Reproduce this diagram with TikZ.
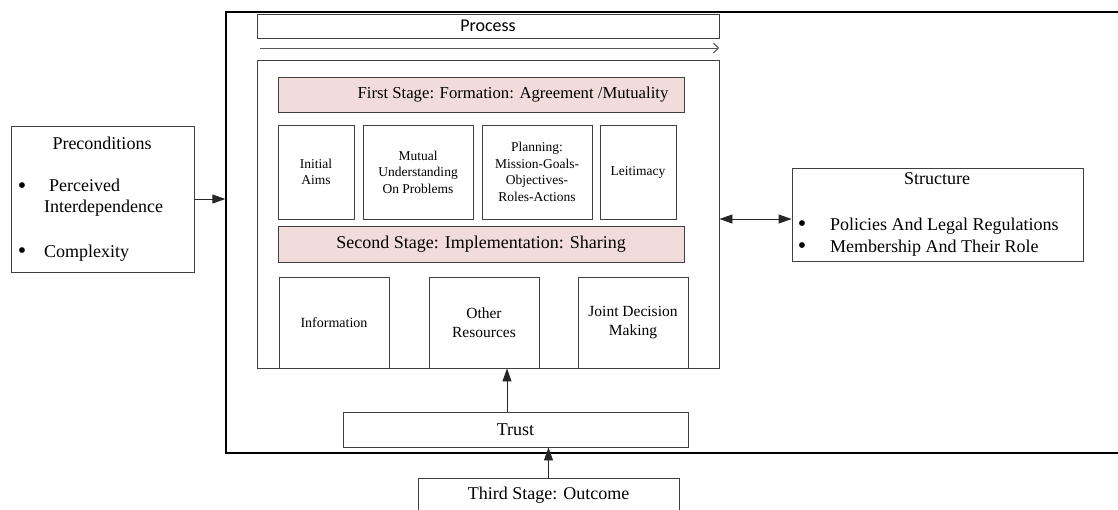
\documentclass[tikz,border=0pt]{standalone}
\usepackage{fontspec}
\setmainfont{Liberation Serif}
\newfontfamily\procfont{Carlito}
\usetikzlibrary{arrows.meta}
\definecolor{stagepink}{RGB}{242,220,219}
\definecolor{boxline}{RGB}{64,64,64}
\newcommand{\fsz}[2]{\fontsize{#1}{#2}\selectfont}

\begin{document}
\begin{tikzpicture}[x=1pt, y=-1pt,
    box/.style={draw=boxline, line width=0.9pt, rectangle, inner sep=2pt, align=center},
    stagebox/.style={box, fill=stagepink},
    arr/.style={-{Triangle[length=13pt,width=9pt]}, line width=0.9pt, draw=black!85},
    lbl/.style={inner sep=0pt, anchor=west},
    dot/.style={inner sep=0pt, font=\fsz{24}{24}}]
    \useasboundingbox (0,0) rectangle (1118,509);
    % Outer frame
    \node[draw, line width=1.3pt, minimum width=914pt, minimum height=441pt] (outer) at (683,232.5) {};
    % Process
    \node[box, minimum width=462pt, minimum height=24pt, font=\procfont\fsz{18}{20}] (process) at (488,26) {Process};
    \coordinate (flow-start) at (260,48);
    \coordinate (flow-end) at (719,48);
    \draw[-{Straight Barb[length=5pt,width=10pt]}, line width=0.9pt, draw=black!65] (flow-start) -- (flow-end);
    \node[box, minimum width=462pt, minimum height=308pt] (inner) at (488,214) {};
    % First Stage
    \node[stagebox, minimum width=406pt, minimum height=35pt, font=\fsz{16.7}{19}] (stage-1) at (481,94.5) {\hspace*{64pt}First Stage: Formation: Agreement /Mutuality};
    \foreach \txt/\cx/\w/\i in {{Initial\\Aims}/316/76/1, {Mutual\\Understanding\\On Problems}/418/110/2, {Planning:\\Mission-Goals-\\Objectives-\\Roles-Actions}/537/110/3, {Leitimacy}/638/76/4} {
        \node[box, minimum width=\w pt, minimum height=94pt, font=\fsz{13.5}{16.5}] (form-\i) at (\cx,172) {\txt};
    }
    % Second Stage
    \node[stagebox, minimum width=406pt, minimum height=36pt, font=\fsz{18}{20}] (stage-2) at (481,244) {Second Stage: Implementation: Sharing};
    \foreach \txt/\cx/\s/\i in {{Information}/334/14/1, {Other\\Resources}/484/15.5/2, {Joint Decision\\Making}/633/15.5/3} {
        \node[box, minimum width=110pt, minimum height=91pt, font=\fsz{\s}{19}] (share-\i) at (\cx,322.5) {\txt};
    }
    % Trust and Outcome
    \node[box, minimum width=345pt, minimum height=35pt, font=\fsz{18}{20}] (trust) at (515.5,429.5) {Trust};
    \node[box, minimum width=261pt, minimum height=35pt, font=\fsz{18}{20}] (stage-3) at (548.5,495.5) {Third Stage: Outcome};
    % Preconditions
    \node[box, minimum width=183pt, minimum height=146pt] (precond) at (102.5,199) {};
    \node[inner sep=0pt, font=\fsz{18}{20}] (precond-title) at (102,143) {Preconditions};
    \node[dot] (precond-b1) at (22,188) {•};
    \node[lbl, font=\fsz{18}{21}, align=left] (precond-1) at (44,198) {\hspace*{5pt}Perceived\\Interdependence};
    \node[dot] (precond-b2) at (22,253) {•};
    \node[lbl, font=\fsz{18}{21}] (precond-2) at (44,253) {Complexity};
    % Structure
    \node[box, minimum width=291pt, minimum height=93pt] (struct) at (937.5,214.5) {};
    \node[inner sep=0pt, font=\fsz{18}{20}] (struct-title) at (937,179) {Structure};
    \node[dot] (struct-b1) at (802,226) {•};
    \node[lbl, font=\fsz{18}{21}] (struct-1) at (830,226) {Policies And Legal Regulations};
    \node[dot] (struct-b2) at (802,248) {•};
    \node[lbl, font=\fsz{18}{21}] (struct-2) at (830,248) {Membership And Their Role};
    % Arrows
    \draw[arr] (precond.east) -- (precond.east -| outer.west);
    \draw[arr, {Triangle[length=13pt,width=9pt]}-{Triangle[length=13pt,width=9pt]}] ([yshift=-5pt]inner.east) -- ([yshift=-5pt]inner.east -| struct.west);
    \draw[arr] ([xshift=-8.5pt]trust.north) -- ([xshift=-8.5pt]trust.north |- share-2.south);
    \draw[arr] (stage-3.north) -- (stage-3.north |- trust.south);
\end{tikzpicture}
\end{document}
